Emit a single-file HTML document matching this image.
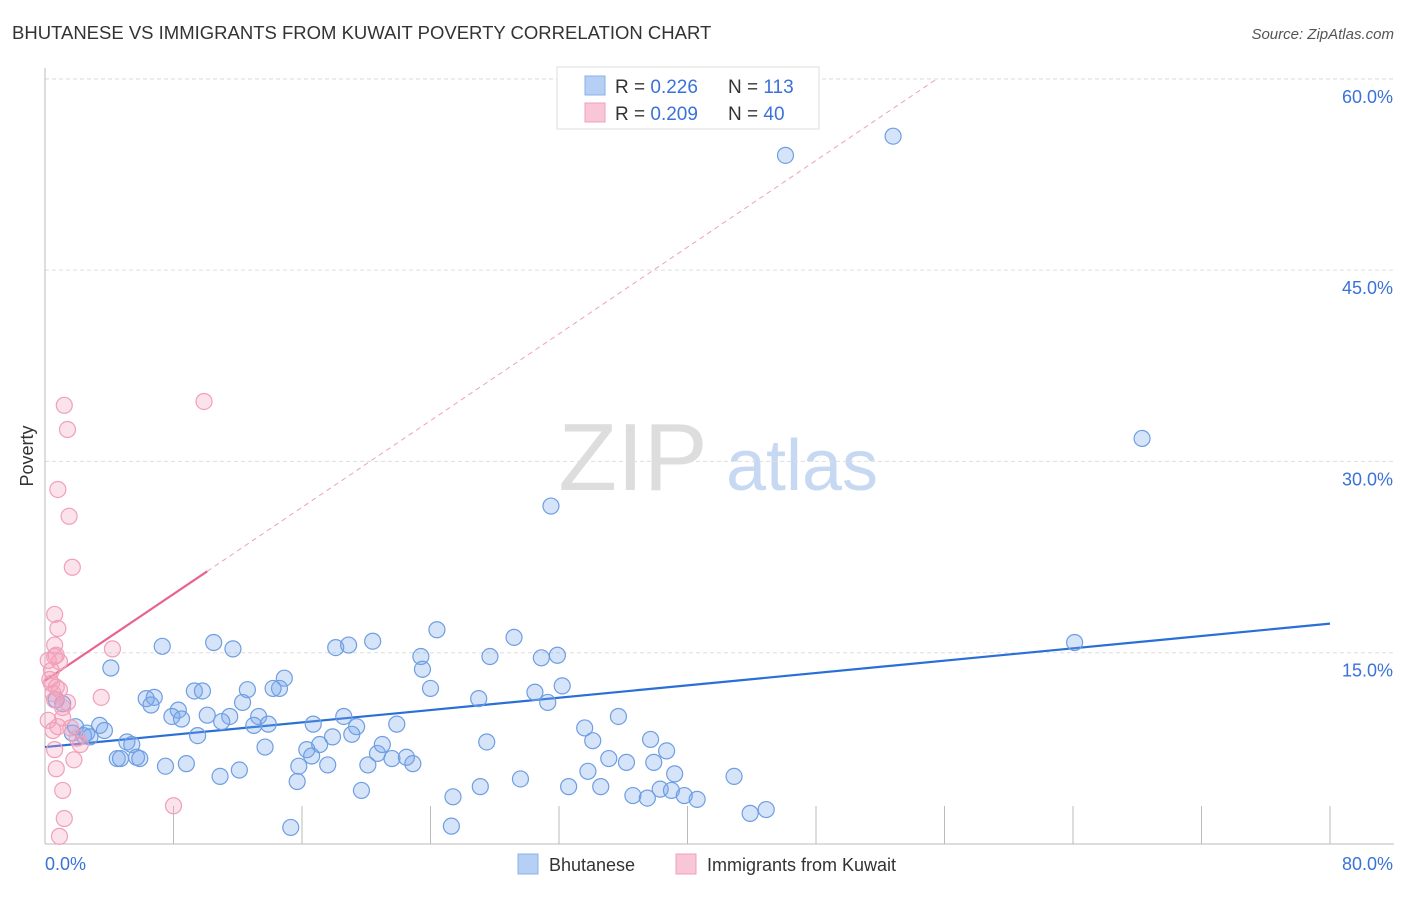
<!DOCTYPE html>
<html><head><meta charset="utf-8"><style>
body{margin:0;background:#fff;font-family:"Liberation Sans",sans-serif;}
svg text{font-family:"Liberation Sans",sans-serif;}
</style></head><body>
<svg id="chart" width="1406" height="892" xmlns="http://www.w3.org/2000/svg">
<text x="12" y="39" font-size="18.5" fill="#333">BHUTANESE VS IMMIGRANTS FROM KUWAIT POVERTY CORRELATION CHART</text>
<text x="1394" y="39" font-size="15" fill="#555" font-style="italic" text-anchor="end">Source: ZipAtlas.com</text>
<text x="0" y="0" transform="translate(33,456) rotate(-90)" font-size="18" fill="#333" text-anchor="middle">Poverty</text>
<g>
<text x="633" y="490" font-size="96" fill="#ddd" font-family="Liberation Serif,serif" text-anchor="middle">ZIP</text>
<text x="802" y="490" font-size="72" fill="#c7d9f2" text-anchor="middle">atlas</text>
</g>
<g id="grid"></g><g id="axes"></g><g id="trend"></g><g id="pts"></g>
<g>
<rect x="557" y="67" width="262" height="62" fill="#fff" stroke="#ddd"/>
<rect x="585" y="76" width="20" height="19" fill="#b5cff5" stroke="#8ab0e8"/>
<rect x="585" y="103" width="20" height="19" fill="#f8c6d6" stroke="#f0a0b8"/>
<text x="615" y="93" font-size="19" fill="#333">R = <tspan fill="#3a72d8">0.226</tspan></text>
<text x="728" y="93" font-size="19" fill="#333">N = <tspan fill="#3a72d8">113</tspan></text>
<text x="615" y="120" font-size="19" fill="#333">R = <tspan fill="#3a72d8">0.209</tspan></text>
<text x="728" y="120" font-size="19" fill="#333">N = <tspan fill="#3a72d8">40</tspan></text>
</g>
<g>
<rect x="518" y="854" width="20" height="20" fill="#b5cff5" stroke="#8ab0e8"/>
<text x="549" y="871" font-size="18" fill="#333">Bhutanese</text>
<rect x="676" y="854" width="20" height="20" fill="#f8c6d6" stroke="#f0a0b8"/>
<text x="707" y="871" font-size="18" fill="#333">Immigrants from Kuwait</text>
</g>
</svg>
<script>
const yTicks=[15,30,45,60];
const yTickLabels=["15.0%","30.0%","45.0%","60.0%"];
const xTicks=[0,8,16,24,32,40,48,56,64,72,80];
const blueX=[46.1,52.8,68.3,31.5,64.1,4.1,7.3,10.5,11.7,18.1,18.9,20.4,24.4,29.2,23.4,23.5,27.7,30.9,31.9,24.0,32.2,30.5,31.3,27.0,14.9,14.6,12.6,14.2,9.3,9.8,6.3,6.8,6.6,8.3,7.9,8.5,10.1,11.5,11.0,12.3,13.3,13.0,13.9,16.7,18.6,19.4,21.9,19.1,17.9,17.1,16.3,16.6,13.7,9.5,5.1,5.4,3.4,3.7,1.9,1.7,2.4,2.6,2.8,0.7,1.1,4.5,4.7,5.7,5.9,7.5,8.8,10.9,12.1,15.8,15.7,17.6,20.1,20.7,21.0,21.6,22.5,22.9,19.7,25.4,25.3,15.3,27.1,27.5,29.6,32.6,33.8,34.6,33.6,34.1,35.1,36.2,35.7,36.6,37.5,38.3,37.7,37.9,38.7,39.2,39.0,39.8,40.6,42.9,43.9,44.9];
const blueY=[54.0,55.5,31.8,26.5,15.8,13.8,15.5,15.8,15.3,15.4,15.6,15.9,16.8,16.2,14.7,13.7,14.7,14.6,14.8,12.2,12.4,11.9,11.1,11.4,13.0,12.2,12.1,12.2,12.0,12.0,11.4,11.5,10.9,10.5,10.0,9.8,10.1,10.0,9.6,11.1,10.0,9.3,9.4,9.4,10.0,9.2,9.4,8.6,8.4,7.8,7.4,6.9,7.6,8.5,8.0,7.8,9.3,8.9,9.2,8.7,8.5,8.7,8.4,11.3,11.0,6.7,6.7,6.8,6.7,6.1,6.3,5.3,5.8,6.1,4.9,6.2,6.2,7.1,7.8,6.7,6.8,6.3,4.2,3.7,1.4,1.3,4.5,8.0,5.1,4.5,5.7,4.5,9.1,8.1,6.7,6.4,10.0,3.8,3.6,4.3,8.2,6.4,7.3,5.5,4.2,3.8,3.5,5.3,2.4,2.7];
const pinkX=[1.2,1.4,0.8,1.5,1.7,9.9,0.6,0.8,0.6,0.7,0.9,0.6,0.4,0.3,0.7,0.5,0.9,1.4,1.1,0.6,4.2,3.5,1.1,0.8,1.6,2.0,2.2,0.6,1.8,0.7,1.1,1.2,0.9,8.0,0.2,0.4,0.2,0.5];
const pinkY=[34.4,32.5,27.8,25.7,21.7,34.7,18.0,16.9,15.6,14.8,14.3,14.7,13.6,12.9,12.3,11.8,12.1,11.1,10.7,11.3,15.3,11.5,9.9,9.2,9.1,8.3,7.8,7.4,6.6,5.9,4.2,2.0,0.6,3.0,14.4,12.6,9.7,8.9];
const blueTrend=[7.6,0.121];
const pinkTrend=[12.8,0.85];

const NS="http://www.w3.org/2000/svg";
const X0=45,X1=1330,Y0=844,PXY=12.753;
const sx=v=>X0+(X1-X0)*v/80;
const sy=v=>Y0-v*PXY;
function mk(parent,tag,attrs){const e=document.createElementNS(NS,tag);for(const k in attrs)e.setAttribute(k,attrs[k]);document.getElementById(parent).appendChild(e);return e;}

yTicks.forEach((t,i)=>{
  const l=mk('grid','line',{x1:X0,x2:1394,y1:sy(t),y2:sy(t),stroke:'#ddd','stroke-dasharray':'4,3'});
  
  
  const tx=mk('grid','text',{x:1393,y:sy(t)+24,'font-size':18,fill:'#3a72d8','text-anchor':'end'});
  tx.textContent=yTickLabels[i];
  
  
});
const topLine=mk('grid','line',{x1:X0,x2:1394,y1:79,y2:79,stroke:'#ddd','stroke-dasharray':'4,3'});


const ya=mk('axes','line',{x1:X0,x2:X0,y1:68,y2:Y0,stroke:'#bbb'});


const xa=mk('axes','line',{x1:X0,x2:1394,y1:Y0,y2:Y0,stroke:'#bbb'});


xTicks.forEach(t=>{
  const l=mk('axes','line',{x1:sx(t),x2:sx(t),y1:806,y2:Y0,stroke:'#bbb'});
  
  
});
const xl0=mk('axes','text',{x:45,y:870,'font-size':18,fill:'#3a72d8'});xl0.textContent='0.0%';


const xl1=mk('axes','text',{x:1393,y:870,'font-size':18,fill:'#3a72d8','text-anchor':'end'});xl1.textContent='80.0%';



blueX.forEach((x,i)=>{
  const c=mk('pts','circle',{cx:sx(x),cy:sy(blueY[i]),r:8,fill:'rgba(120,165,235,0.3)',stroke:'#6e9ee2','stroke-width':1.2});
  
  
});
pinkX.forEach((x,i)=>{
  const c=mk('pts','circle',{cx:sx(x),cy:sy(pinkY[i]),r:8,fill:'rgba(245,160,190,0.3)',stroke:'#f0a0b8','stroke-width':1.2});
  
  
});
const bt=mk('trend','line',{x1:sx(0),y1:sy(blueTrend[0]),x2:sx(80),y2:sy(blueTrend[0]+blueTrend[1]*80),stroke:'#2a6fd6','stroke-width':2.2});


const xEnd=(60-pinkTrend[0])/pinkTrend[1];
const pd=mk('trend','line',{x1:sx(10.1),y1:sy(pinkTrend[0]+pinkTrend[1]*10.1),x2:sx(xEnd),y2:sy(60),stroke:'#f0a0b8','stroke-width':1,'stroke-dasharray':'5,4'});


const pt=mk('trend','line',{x1:sx(0),y1:sy(pinkTrend[0]),x2:sx(10.1),y2:sy(pinkTrend[0]+pinkTrend[1]*10.1),stroke:'#e8648e','stroke-width':2.2});


</script>
</body></html>
